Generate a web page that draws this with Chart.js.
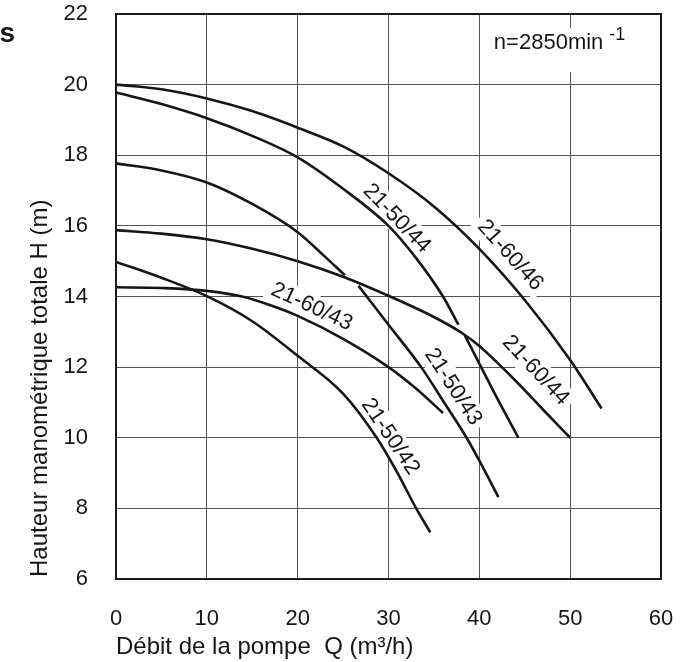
<!DOCTYPE html>
<html><head><meta charset="utf-8">
<script src="https://cdn.jsdelivr.net/npm/chart.js@4.4.1/dist/chart.umd.min.js"></script>
<style>html,body{margin:0;padding:0;background:#fff;}canvas{display:block;}</style>
</head><body>
<canvas id="c" width="693" height="662"></canvas>
<script>
// ---- tick values ----
const xTickValues = [0, 10, 20, 30, 40, 50, 60];
const yTickValues = [6, 8, 10, 12, 14, 16, 18, 20, 22];

// ---- curve names ----
const curveNames = ['21-60/46', '21-50/44', '21-60/44', '21-50/43', '21-60/43', '21-50/42'];

// ---- series values (Q in m3/h, H in m; null = line break) ----
const q_21_60_46 = [0, 5, 10, 15, 20, 25, 30, 35, 40, 45, 50, 53.45];
const h_21_60_46 = [20.0, 19.87, 19.61, 19.25, 18.78, 18.25, 17.49, 16.55, 15.35, 13.9, 12.2, 10.83];

const q_21_50_44 = [0, 5, 10, 15, 20, 25, 30, 33, 36, 37.7, 38, 38.4, 40, 42, 44.3];
const h_21_50_44 = [19.78, 19.45, 19.05, 18.55, 17.94, 17.05, 16.0, 15.1, 14.0, 13.2, null, 12.9, 12.1, 11.1, 10.0];

const q_21_60_44 = [0, 5, 10, 15, 20, 25, 30, 35, 38, 40, 42, 44.5, 47, 50];
const h_21_60_44 = [15.88, 15.78, 15.62, 15.35, 15.0, 14.56, 14.02, 13.42, 12.98, 12.6, 12.12, 11.48, 10.8, 10.0];

const q_21_50_43 = [0, 5, 10, 15, 20, 23, 25.2, 26, 26.7, 30, 33.6, 36, 38.6, 40, 42.1];
const h_21_50_43 = [17.77, 17.57, 17.23, 16.62, 15.82, 15.13, 14.6, null, 14.3, 13.2, 12.0, 11.05, 10.0, 9.35, 8.32];

const q_21_60_43 = [0, 5, 10, 14, 17, 20, 25, 30, 33, 36];
const h_21_60_43 = [14.26, 14.24, 14.16, 13.99, 13.75, 13.45, 12.8, 12.0, 11.4, 10.7];

const q_21_50_42 = [0, 5, 10, 15, 20, 25, 28.7, 31, 33, 34.6];
const h_21_50_42 = [14.98, 14.53, 14.01, 13.3, 12.32, 11.25, 10.0, 9.0, 8.02, 7.32];

// ---- curve label anchors (data units) and angles ----
const labelQ = [43.4, 30.9, 46.2, 37.1, 21.55, 30.2];
const labelH = [15.17, 16.21, 11.91, 11.44, 13.71, 10.03];
const labelAngle = [48, 46, 47, 57, 25, 56];

const speedText = 'n=2850min';
const speedSup = '-1';
const xTitle = 'Débit de la pompe  Q (m³/h)';
const yTitle = 'Hauteur manométrique totale H (m)';

const FONT = "'Liberation Sans', Arial, Helvetica, sans-serif";
const INK = '#161616';

function pts(q, h) { return q.map((v, i) => ({ x: v, y: h[i] })); }

const series = [
  [q_21_60_46, h_21_60_46], [q_21_50_44, h_21_50_44], [q_21_60_44, h_21_60_44],
  [q_21_50_43, h_21_50_43], [q_21_60_43, h_21_60_43], [q_21_50_42, h_21_50_42]
];

const datasets = series.map((s, i) => ({
  label: curveNames[i],
  data: pts(s[0], s[1]),
  borderColor: INK,
  borderWidth: 2.6,
  pointRadius: 0,
  pointHoverRadius: 0,
  fill: false,
  spanGaps: false,
  tension: 0.4,
  cubicInterpolationMode: 'monotone'
}));

const extras = {
  id: 'extras',
  beforeDatasetsDraw(chart) {
    const { ctx, chartArea: a, scales: { x, y } } = chart;
    ctx.save();
    // curve labels on white boxes
    ctx.font = '22px ' + FONT;
    curveNames.forEach((t, i) => {
      const px = x.getPixelForValue(labelQ[i]);
      const py = y.getPixelForValue(labelH[i]);
      ctx.save();
      ctx.translate(px, py);
      ctx.rotate(labelAngle[i] * Math.PI / 180);
      const w = ctx.measureText(t).width;
      ctx.fillStyle = '#fff';
      ctx.fillRect(-w / 2 - 5, -13, w + 10, 26);
      ctx.fillStyle = INK;
      ctx.textAlign = 'center';
      ctx.textBaseline = 'middle';
      ctx.fillText(t, 0, 0);
      ctx.restore();
    });
    // speed label
    const nx = x.getPixelForValue(41.6);
    const ny = y.getPixelForValue(21.18);
    ctx.font = '22px ' + FONT;
    const w1 = ctx.measureText(speedText).width;
    ctx.font = '18px ' + FONT;
    const w2 = ctx.measureText(speedSup).width;
    ctx.fillStyle = '#fff';
    ctx.fillRect(nx - 6, ny - 15, w1 + w2 + 18, 44);
    ctx.fillStyle = INK;
    ctx.textBaseline = 'middle';
    ctx.textAlign = 'left';
    ctx.font = '22px ' + FONT;
    ctx.fillText(speedText, nx, ny);
    ctx.font = '18px ' + FONT;
    ctx.fillText(speedSup, nx + w1 + 6, ny - 8);
    // frame
    ctx.strokeStyle = '#1a1a1a';
    ctx.lineWidth = 2;
    ctx.strokeRect(a.left, a.top, a.right - a.left, a.bottom - a.top);
    ctx.restore();
  },
  afterDraw(chart) {
    const { ctx, chartArea: a } = chart;
    ctx.save();
    ctx.fillStyle = INK;
    // x title
    ctx.font = '24px ' + FONT;
    ctx.textAlign = 'left';
    ctx.textBaseline = 'middle';
    ctx.fillText(xTitle, a.left, 647);
    // y title
    ctx.save();
    ctx.translate(40, a.bottom - 2);
    ctx.rotate(-Math.PI / 2);
    ctx.fillText(yTitle, 0, 0);
    ctx.restore();
    // clipped heading letter
    ctx.font = 'bold 28px ' + FONT;
    ctx.textAlign = 'right';
    ctx.textBaseline = 'alphabetic';
    ctx.fillText('s', 15, 42);
    ctx.restore();
  }
};

const tickFont = { family: FONT, size: 22 };

new Chart(document.getElementById('c'), {
  type: 'line',
  data: { datasets },
  options: {
    responsive: false,
    animation: false,
    devicePixelRatio: 1,
    layout: { autoPadding: false, padding: { top: 14, right: 32, left: 0, bottom: 0 } },
    plugins: { legend: { display: false }, tooltip: { enabled: false } },
    scales: {
      x: {
        type: 'linear', min: 0, max: 60,
        afterBuildTicks: s => { s.ticks = xTickValues.map(v => ({ value: v })); },
        afterFit: s => { s.height = 83; s.paddingLeft = 0; s.paddingRight = 0; },
        grid: { color: '#555', lineWidth: 1, drawTicks: false },
        border: { display: false },
        ticks: { font: tickFont, color: INK, padding: 27, maxRotation: 0, autoSkip: false }
      },
      y: {
        type: 'linear', min: 6, max: 22,
        afterBuildTicks: s => { s.ticks = yTickValues.map(v => ({ value: v })); },
        afterFit: s => { s.width = 116; s.paddingTop = 0; s.paddingBottom = 0; },
        grid: { color: '#555', lineWidth: 1, drawTicks: false },
        border: { display: false },
        ticks: { font: tickFont, color: INK, padding: 28, autoSkip: false }
      }
    }
  },
  plugins: [extras]
});
</script>
</body></html>
